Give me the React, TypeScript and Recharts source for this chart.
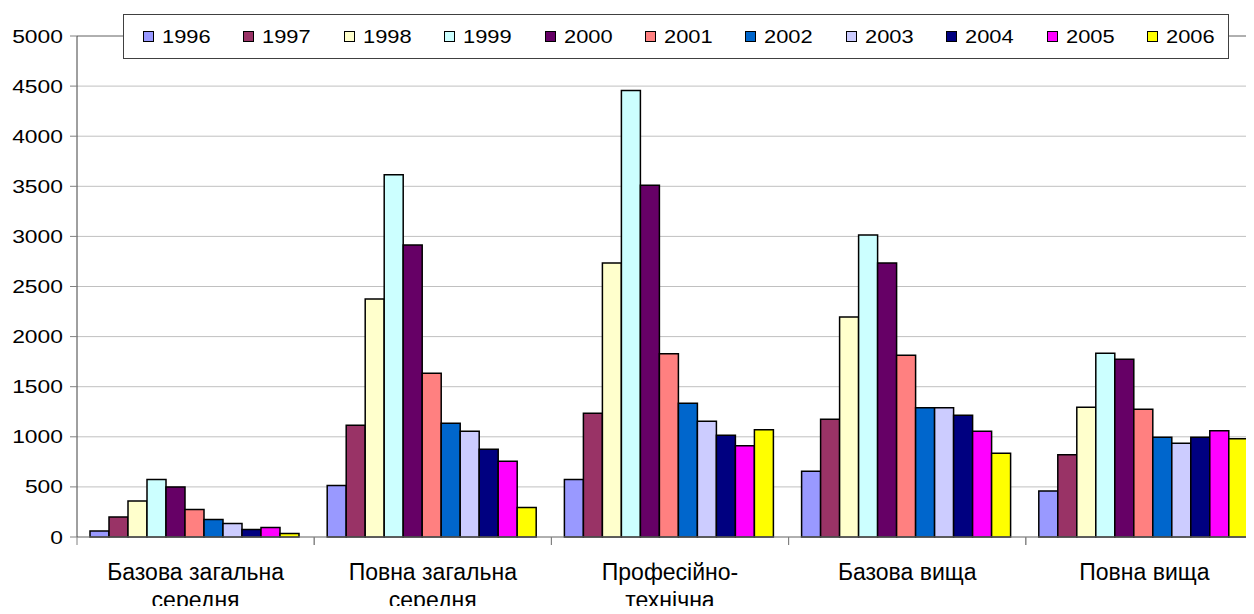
import { Bar, BarChart, CartesianGrid, ReferenceLine, XAxis, YAxis } from 'recharts'

const categories = [
  'Базова загальна\nсередня',
  'Повна загальна\nсередня',
  'Професійно-\nтехнічна',
  'Базова вища',
  'Повна вища',
]

const years = ['1996', '1997', '1998', '1999', '2000', '2001', '2002', '2003', '2004', '2005', '2006']

const v1996 = [60, 515, 575, 655, 460]
const v1997 = [200, 1115, 1235, 1175, 820]
const v1998 = [360, 2375, 2735, 2195, 1295]
const v1999 = [575, 3615, 4455, 3015, 1835]
const v2000 = [500, 2915, 3510, 2735, 1775]
const v2001 = [275, 1635, 1830, 1815, 1275]
const v2002 = [175, 1135, 1335, 1290, 995]
const v2003 = [135, 1055, 1155, 1290, 935]
const v2004 = [75, 875, 1015, 1215, 995]
const v2005 = [95, 755, 910, 1055, 1060]
const v2006 = [35, 295, 1070, 835, 980]

const yTicks = [0, 500, 1000, 1500, 2000, 2500, 3000, 3500, 4000, 4500, 5000]

const colors = [
  '#9999FF', '#993366', '#FFFFCC', '#CCFFFF', '#660066', '#FF8080',
  '#0066CC', '#CCCCFF', '#000080', '#FF00FF', '#FFFF00',
]

const series = [v1996, v1997, v1998, v1999, v2000, v2001, v2002, v2003, v2004, v2005, v2006]

const rows = categories.map((c, i) => {
  const r: Record<string, string | number> = { cat: c }
  years.forEach((y, j) => {
    r[y] = series[j][i]
  })
  return r
})

const FONT = '"Liberation Sans", Arial, sans-serif'
const W = 1270
const H = 614
const M = { top: 36, right: 7, bottom: 0, left: 0 }
const Y_W = 77
const STEP = (W - M.left - M.right - Y_W) / categories.length

// подписи категорий в две строки + засечки на границах категорий
function CatTick(props: any) {
  const { x, y, payload } = props
  const lines = String(payload.value).split('\n')
  return (
    <g>
      <line x1={x - STEP / 2} x2={x - STEP / 2} y1={y} y2={y + 8} stroke="#808080" />
      <line x1={x + STEP / 2} x2={x + STEP / 2} y1={y} y2={y + 8} stroke="#808080" />
      {lines.map((l, i) => (
        <text
          key={i}
          x={x}
          y={y + 43 + i * 28}
          textAnchor="middle"
          fontSize={23}
          fontFamily={FONT}
          fill="#000"
        >
          {l}
        </text>
      ))}
    </g>
  )
}

// цифры по оси Y в оригинале растянуты по ширине
function ValTick(props: any) {
  const { x, y, payload } = props
  return (
    <text
      transform={`translate(${x},${y}) scale(1.27,1)`}
      textAnchor="end"
      dominantBaseline="central"
      fontSize={18}
      fontFamily={FONT}
      fill="#000"
    >
      {payload.value}
    </text>
  )
}

function Legenda() {
  return (
    <div
      style={{
        position: 'absolute',
        left: 123,
        top: 14,
        width: 1106,
        height: 45,
        background: '#fff',
        border: '1px solid #404040',
        display: 'flex',
        alignItems: 'center',
        paddingLeft: 19,
        boxSizing: 'border-box',
        fontFamily: FONT,
        fontSize: 19,
      }}
    >
      {years.map((y, i) => (
        <div key={y} style={{ width: 100.4, flex: 'none', display: 'flex', alignItems: 'center' }}>
          <span
            style={{
              width: 9,
              height: 9,
              background: colors[i],
              border: '1px solid #000',
              marginRight: 8,
              display: 'inline-block',
              flex: 'none',
            }}
          />
          <span style={{ display: 'inline-block', transform: 'scaleX(1.15)', transformOrigin: 'left center' }}>
            {y}
          </span>
        </div>
      ))}
    </div>
  )
}

export default function App() {
  return (
    <div style={{ position: 'relative', width: 1254, height: H, overflow: 'hidden', margin: -8, background: '#fff' }}>
      <BarChart width={W} height={H} data={rows} margin={M} barGap={0} barCategoryGap={13}>
        <CartesianGrid vertical={false} stroke="#c0c0c0" />
        <ReferenceLine y={5000} stroke="#808080" />
        <XAxis
          dataKey="cat"
          height={77}
          interval={0}
          tickSize={0}
          tickMargin={0}
          tickLine={false}
          axisLine={{ stroke: '#808080' }}
          tick={<CatTick />}
        />
        <YAxis
          width={Y_W}
          domain={[0, 5000]}
          ticks={yTicks}
          interval={0}
          tickSize={7}
          tickMargin={7}
          tickLine={{ stroke: '#808080' }}
          axisLine={{ stroke: '#404040' }}
          tick={<ValTick />}
        />
        {years.map((y, i) => (
          <Bar
            key={y}
            dataKey={y}
            fill={colors[i]}
            stroke="#000"
            strokeWidth={1.5}
            isAnimationActive={false}
          />
        ))}
      </BarChart>
      <Legenda />
    </div>
  )
}
